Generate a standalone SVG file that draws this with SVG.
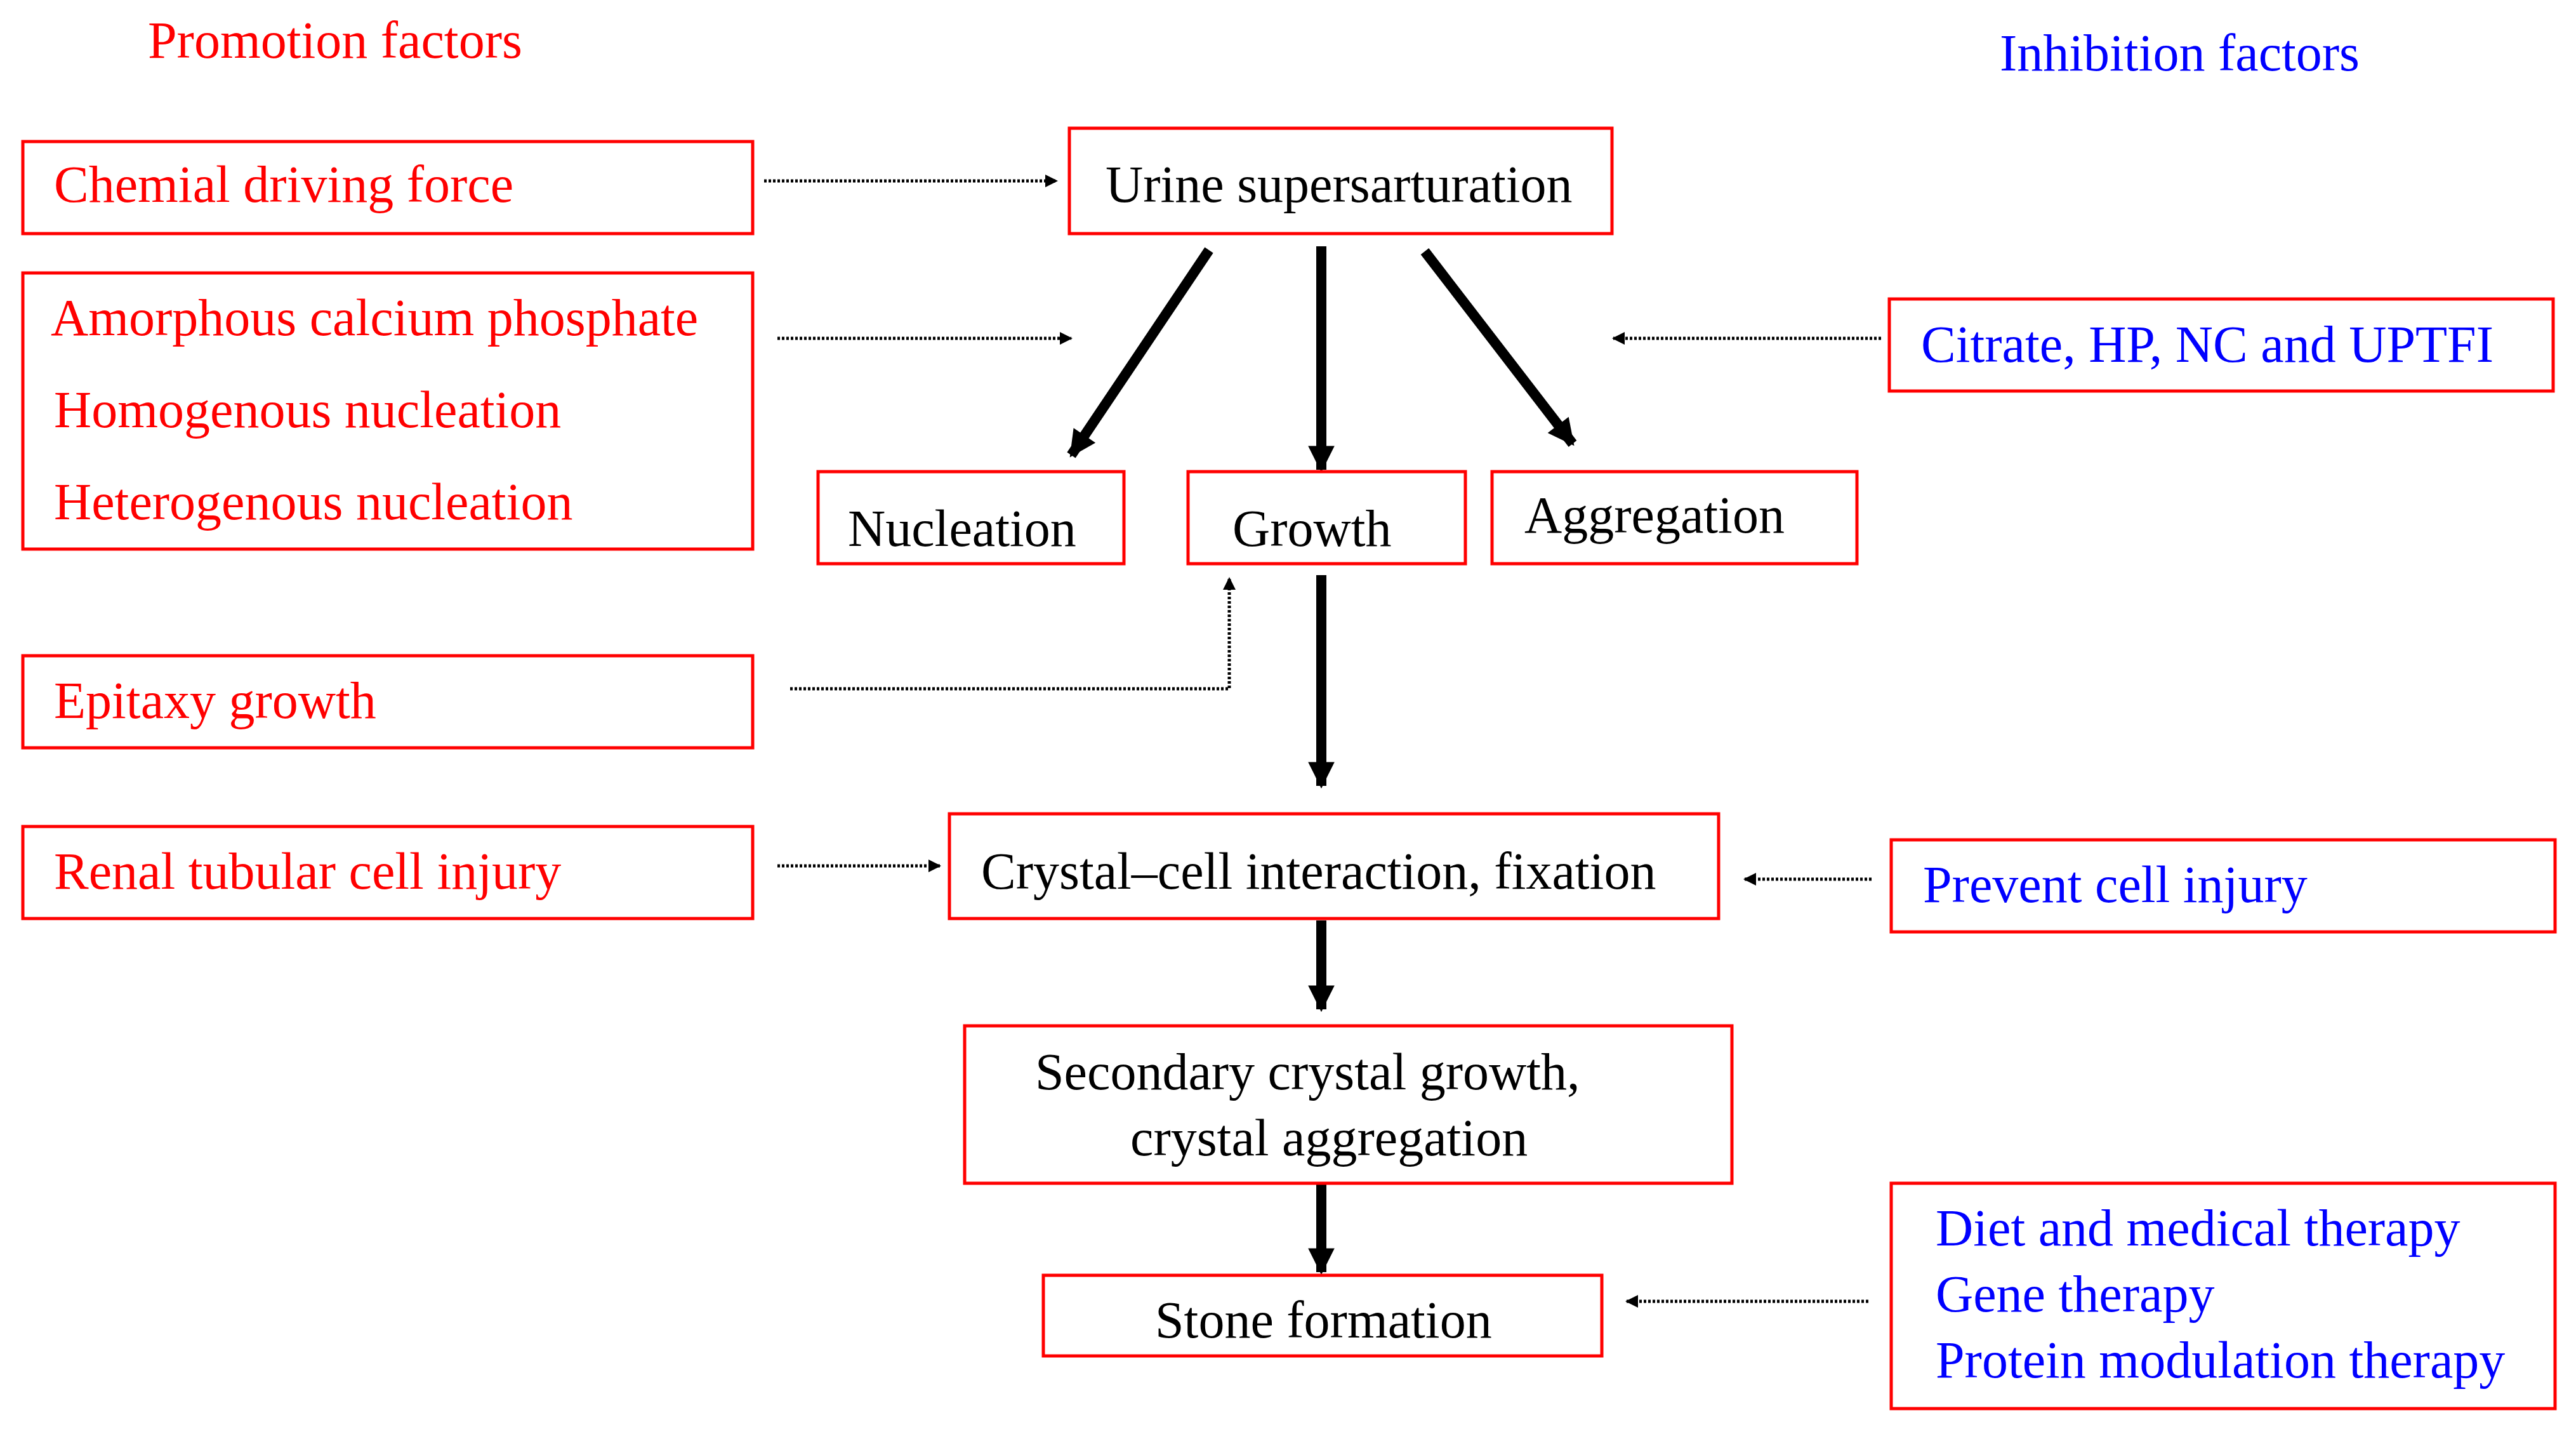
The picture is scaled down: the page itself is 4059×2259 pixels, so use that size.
<svg xmlns="http://www.w3.org/2000/svg" width="4059" height="2259" viewBox="0 0 4059 2259">
<defs>
<style>
text{font-family:"Liberation Serif","Times New Roman",serif;font-size:82px}
.r{fill:#ff0000}.b{fill:#0000ff}.k{fill:#000}
rect{fill:#fff;stroke:#ff0000;stroke-width:5}
.d{stroke:#000;stroke-width:5;stroke-dasharray:4 3;fill:none}
.t{stroke:#000;stroke-width:16;fill:none}
</style>
<marker id="sa" viewBox="0 0 10 10" refX="9" refY="5" markerWidth="4" markerHeight="4" orient="auto" markerUnits="strokeWidth"><path d="M0,0L10,5L0,10z" fill="#000"/></marker>
<marker id="ta" viewBox="0 0 10 10" refX="9" refY="5" markerWidth="3.2" markerHeight="2.6" orient="auto" markerUnits="strokeWidth"><path d="M0,0L10,5L0,10z" fill="#000"/></marker>
</defs>
<rect width="4059" height="2259" fill="#fff" style="stroke:none"/>
<text class="r" x="233" y="91">Promotion factors</text>
<text class="b" x="3151" y="111">Inhibition factors</text>
<g id="connectors">
<path class="d" marker-end="url(#sa)" d="M1204,285H1665"/>
<path class="d" marker-end="url(#sa)" d="M1225,533H1688"/>
<path class="d" marker-end="url(#sa)" d="M2964,533H2542"/>
<path class="d" marker-end="url(#sa)" d="M1245,1085H1937V911"/>
<path class="d" marker-end="url(#sa)" d="M1225,1364H1481"/>
<path class="d" marker-end="url(#sa)" d="M2949,1385H2749"/>
<path class="d" marker-end="url(#sa)" d="M2944,2050H2563"/>
<path class="t" marker-end="url(#ta)" d="M1905,394L1688,717"/>
<path class="t" marker-end="url(#ta)" d="M2082,388V740"/>
<path class="t" marker-end="url(#ta)" d="M2245,396L2478,699"/>
<path class="t" marker-end="url(#ta)" d="M2082,906V1238"/>
<path class="t" marker-end="url(#ta)" d="M2082,1450V1590"/>
<path class="t" marker-end="url(#ta)" d="M2082,1864V2004"/>
</g>
<g id="chemial"><rect x="36" y="223" width="1150" height="145"/><text class="r" x="85" y="318">Chemial driving force</text></g>
<g id="urine"><rect x="1685" y="202" width="855" height="166"/><text class="k" x="1742" y="318">Urine supersarturation</text></g>
<g id="promo"><rect x="36" y="430" width="1150" height="435"/><text class="r" x="80" y="528">Amorphous calcium phosphate</text><text class="r" x="85" y="673">Homogenous nucleation</text><text class="r" x="85" y="818">Heterogenous nucleation</text></g>
<g id="nucleation"><rect x="1289" y="743" width="482" height="145"/><text class="k" x="1336" y="860">Nucleation</text></g>
<g id="growth"><rect x="1872" y="743" width="437" height="145"/><text class="k" x="1942" y="860">Growth</text></g>
<g id="aggregation"><rect x="2351" y="743" width="575" height="145"/><text class="k" x="2402" y="839">Aggregation</text></g>
<g id="epitaxy"><rect x="36" y="1033" width="1150" height="145"/><text class="r" x="85" y="1131">Epitaxy growth</text></g>
<g id="renal"><rect x="36" y="1302" width="1150" height="145"/><text class="r" x="85" y="1400">Renal tubular cell injury</text></g>
<g id="crystal"><rect x="1496" y="1282" width="1212" height="165"/><text class="k" x="1546" y="1400">Crystal–cell interaction, fixation</text></g>
<g id="secondary"><rect x="1520" y="1616" width="1209" height="248"/><text class="k" x="1631" y="1716">Secondary crystal growth,</text><text class="k" x="1781" y="1820">crystal aggregation</text></g>
<g id="stone"><rect x="1644" y="2009" width="880" height="127"/><text class="k" x="1820" y="2107">Stone formation</text></g>
<g id="citrate"><rect x="2977" y="471" width="1046" height="145"/><text class="b" x="3027" y="570">Citrate, HP, NC and UPTFI</text></g>
<g id="prevent"><rect x="2980" y="1323" width="1046" height="145"/><text class="b" x="3030" y="1421">Prevent cell injury</text></g>
<g id="diet"><rect x="2980" y="1864" width="1046" height="355"/><text class="b" x="3050" y="1962">Diet and medical therapy</text><text class="b" x="3050" y="2066">Gene therapy</text><text class="b" x="3050" y="2170">Protein modulation therapy</text></g>
</svg>
